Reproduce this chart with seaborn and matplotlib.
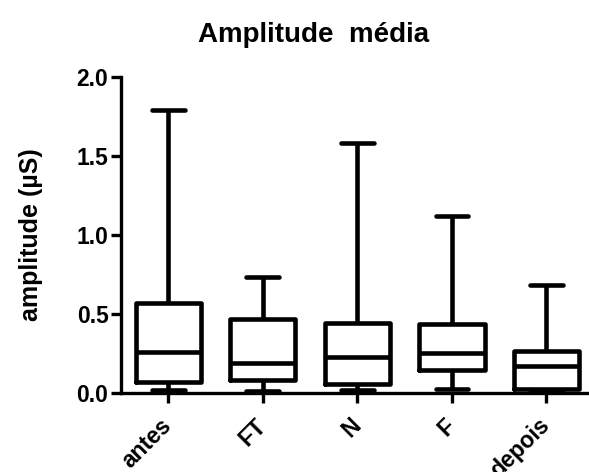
import matplotlib
matplotlib.use("Agg")
import matplotlib.pyplot as plt
import seaborn as sns
import pandas as pd

categories = ["antes", "FT", "N", "F", "depois"]
mins    = [0.017, 0.010, 0.017, 0.028, 0.008]
q1s     = [0.068, 0.080, 0.055, 0.144, 0.028]
medians = [0.258, 0.190, 0.228, 0.253, 0.173]
q3s     = [0.570, 0.470, 0.443, 0.439, 0.264]
maxs    = [1.790, 0.734, 1.582, 1.118, 0.686]

rows = []
for c, a, b, m, d, e in zip(categories, mins, q1s, medians, q3s, maxs):
    for v in (a, b, m, d, e):
        rows.append({"group": c, "value": v})
df = pd.DataFrame(rows)

sns.set_style("ticks")
plt.rcParams['font.family'] = ['Liberation Sans', 'DejaVu Sans']
plt.rcParams['text.color'] = 'black'
plt.rcParams['xtick.color'] = 'black'
plt.rcParams['ytick.color'] = 'black'
plt.rcParams['axes.labelcolor'] = 'black'

fig = plt.figure(figsize=(5.89, 4.72), dpi=100)
ax = fig.add_axes([0.2054, 0.1674, 0.7946, 0.6701])

lw = 3.3
sns.boxplot(data=df, x="group", y="value", order=categories, whis=(0, 100),
            fill=False, color="black", linewidth=lw, width=0.69, ax=ax,
            medianprops=dict(color="black", linewidth=lw),
            capprops=dict(color="black", linewidth=lw),
            whiskerprops=dict(color="black", linewidth=lw),
            boxprops=dict(color="black", linewidth=lw))

ax.set_ylim(0, 2.0)
ax.set_xlim(-0.5, 4.45)
ax.set_yticks([0.0, 0.5, 1.0, 1.5, 2.0])
ax.set_yticklabels(["0.0", "0.5", "1.0", "1.5", "2.0"], fontsize=16.5,
                   fontweight="bold", color="black")
ax.set_xticks(range(len(categories)))
ax.set_xticklabels(categories, fontsize=16.5, fontweight="bold", rotation=45,
                   ha="right", va="center", rotation_mode="anchor", color="black")
for s in ["top", "right"]:
    ax.spines[s].set_visible(False)
for s in ["left", "bottom"]:
    ax.spines[s].set_linewidth(2.4)
    ax.spines[s].set_color("black")
ax.tick_params(axis="both", width=2.4, length=7, color="black", pad=2)
ax.tick_params(axis="x", pad=14)
ax.set_xlabel("")
ax.set_ylabel("amplitude (µS)", fontsize=18, fontweight="bold", labelpad=24,
              color="black")
fig.text(0.533, 0.926, "Amplitude  média", fontsize=20, fontweight="bold",
         ha="center", va="center", color="black")

fig.savefig("out.png", dpi=100)
